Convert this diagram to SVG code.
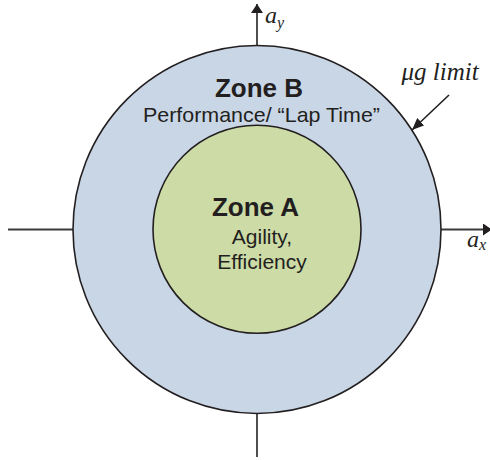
<svg xmlns="http://www.w3.org/2000/svg" width="490" height="460" viewBox="0 0 490 460">
  <defs>
    <marker id="axishead" viewBox="0 0 10 10" refX="10" refY="5" markerWidth="9" markerHeight="12" orient="auto" markerUnits="userSpaceOnUse" preserveAspectRatio="none">
      <path d="M0,0 L10,5 L0,10 Z" fill="#231f20"/>
    </marker>
    <marker id="pointer" viewBox="0 0 10 10" refX="10" refY="5" markerWidth="12" markerHeight="10" orient="auto" markerUnits="userSpaceOnUse" preserveAspectRatio="none">
      <path d="M0,0 L10,5 L0,10 Z" fill="#231f20"/>
    </marker>
  </defs>
  <style>
    .axis { stroke: #3b3b3b; stroke-width: 1.8; fill: none; }
    .ring { stroke: #231f20; stroke-width: 1.6; }
    .title { font-family: "Liberation Sans", Arial, sans-serif; font-weight: bold; font-size: 26px; fill: #231f20; text-anchor: middle; }
    .body { font-family: "Liberation Sans", Arial, sans-serif; font-size: 21px; fill: #231f20; text-anchor: middle; }
    .math { font-family: "Liberation Serif", "Times New Roman", serif; font-style: italic; fill: #231f20; }
  </style>

  <g id="connectors">
    <line class="axis" x1="257" y1="46" x2="257" y2="4" marker-end="url(#axishead)"/>
    <line class="axis" x1="257" y1="413" x2="257" y2="457"/>
    <line class="axis" x1="8" y1="229.5" x2="73" y2="229.5"/>
    <line class="axis" x1="441" y1="229.5" x2="492" y2="229.5" marker-end="url(#axishead)"/>
    <line stroke="#231f20" stroke-width="1.6" x1="449" y1="95" x2="412" y2="130" marker-end="url(#pointer)"/>
  </g>

  <g id="zone-b">
    <circle class="ring" cx="257" cy="229.5" r="184" fill="#c9d6e6"/>
    <text class="title" x="259" y="97">Zone B</text>
    <text class="body" x="261.5" y="122" textLength="237" lengthAdjust="spacingAndGlyphs">Performance/ “Lap Time”</text>
  </g>

  <g id="zone-a">
    <circle class="ring" cx="257" cy="229.3" r="104" fill="#cddca6"/>
    <text class="title" x="255.5" y="216">Zone A</text>
    <text class="body" x="262" y="244">Agility,</text>
    <text class="body" x="262" y="269">Efficiency</text>
  </g>

  <g id="labels">
    <text class="math" x="265" y="23" font-size="24">a<tspan font-size="16" dy="5">y</tspan></text>
    <text class="math" x="467" y="247" font-size="24">a<tspan font-size="16" dy="3">x</tspan></text>
    <text class="math" x="401.5" y="80" font-size="25">μg limit</text>
  </g>
</svg>
